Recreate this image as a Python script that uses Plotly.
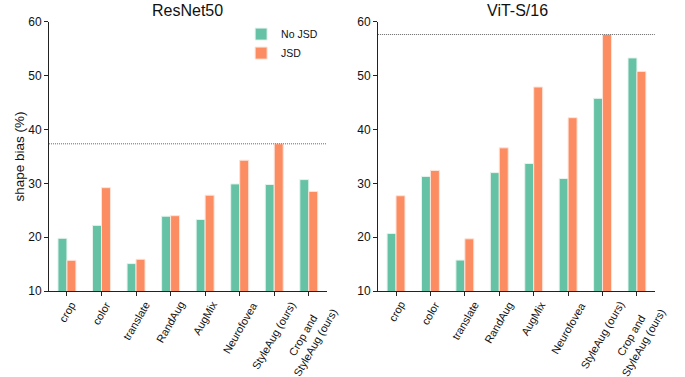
import plotly.graph_objects as go
from plotly.subplots import make_subplots

categories = ["crop", "color", "translate", "RandAug", "AugMix", "Neurofovea",
              "StyleAug (ours)", "Crop and<br>StyleAug (ours)"]

resnet_no_jsd = [19.8, 22.2, 15.1, 23.9, 23.3, 29.9, 29.8, 30.7]
resnet_jsd = [15.7, 29.2, 15.9, 24.0, 27.8, 34.3, 37.35, 28.5]
vit_no_jsd = [20.7, 31.3, 15.75, 32.0, 33.7, 30.9, 45.8, 53.3]
vit_jsd = [27.7, 32.4, 19.7, 36.6, 47.9, 42.2, 57.65, 50.8]

ref_lines = [37.35, 57.65]
titles = ["ResNet50", "ViT-S/16"]

green = "#66c2a5"
orange = "#fc8d62"

fig = make_subplots(rows=1, cols=2)

for col, (no_jsd, jsd) in enumerate([(resnet_no_jsd, resnet_jsd), (vit_no_jsd, vit_jsd)], start=1):
    fig.add_trace(go.Bar(x=categories, y=no_jsd, name="No JSD", marker_color=green,
                         marker_line=dict(color="#e6f4ef", width=1),
                         showlegend=(col == 1)), row=1, col=col)
    fig.add_trace(go.Bar(x=categories, y=jsd, name="JSD", marker_color=orange,
                         marker_line=dict(color="#fde3d8", width=1),
                         showlegend=(col == 1)), row=1, col=col)

axis_style = dict(showline=True, linecolor="#222", linewidth=1, ticks="outside",
                  ticklen=4, tickcolor="#222", showgrid=False, zeroline=False,
                  automargin=False)

# x labels are drawn as rotated annotations so they sit centred under the ticks
fig.update_xaxes(**axis_style, range=[-0.52, 7.52], showticklabels=False)
fig.update_yaxes(**axis_style, range=[10, 60], dtick=10,
                 tickfont=dict(size=12, color="#111"))

fig.update_layout(
    xaxis=dict(domain=[0.0715, 0.477]),
    xaxis2=dict(domain=[0.552, 0.956]),
    yaxis=dict(domain=[0.228, 0.942], title=dict(text="shape bias (%)", font=dict(size=13.5), standoff=0)),
    yaxis2=dict(domain=[0.228, 0.942]),
)

for xr in ["x", "x2"]:
    for cat in categories:
        fig.add_annotation(text=cat, x=cat, xref=xr, y=0.213, yref="paper",
                           xanchor="center", yanchor="top", textangle=-60,
                           showarrow=False, align="center",
                           font=dict(size=11, color="#111"))

for i, val in enumerate(ref_lines):
    xr = "x" if i == 0 else "x2"
    yr = "y" if i == 0 else "y2"
    fig.add_shape(type="line", xref=xr + " domain", yref=yr, x0=0, x1=1, y0=val, y1=val,
                  line=dict(color="#666", width=1, dash="1px,1px"))

fig.add_annotation(text=titles[0], xref="paper", yref="paper", x=0.274, y=1.0,
                   xanchor="center", yanchor="top", showarrow=False, font=dict(size=16, color="#111"))
fig.add_annotation(text=titles[1], xref="paper", yref="paper", x=0.755, y=1.0,
                   xanchor="center", yanchor="top", showarrow=False, font=dict(size=16, color="#111"))

fig.update_layout(
    width=685, height=377,
    margin=dict(l=0, r=0, t=0, b=0),
    barmode="group", bargap=0.48, bargroupgap=0,
    plot_bgcolor="white", paper_bgcolor="white",
    font=dict(family="Arial", size=11, color="#111"),
    legend=dict(x=0.352, y=0.948, xanchor="left", yanchor="top",
                bgcolor="rgba(0,0,0,0)", font=dict(size=10.5), tracegroupgap=2),
)

fig.write_html("out.html", config={"displayModeBar": False},
               post_script="document.body.style.margin='0';")
